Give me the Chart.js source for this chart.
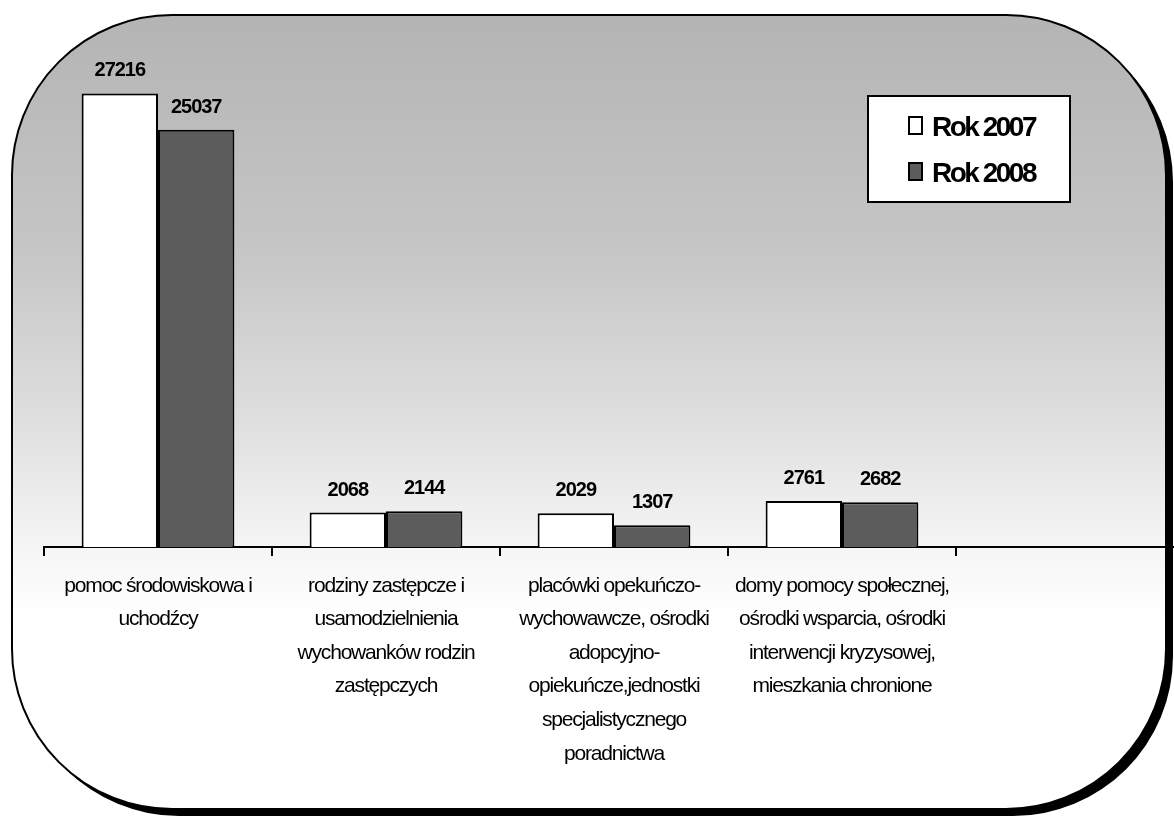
<!DOCTYPE html>
<html>
<head>
<meta charset="utf-8">
<script src="https://cdn.jsdelivr.net/npm/chart.js@4.4.1/dist/chart.umd.min.js"></script>
<style>
  html, body { margin: 0; padding: 0; background: #ffffff; overflow: hidden; }
  #wrap { width: 1174px; height: 820px; overflow: hidden; position: relative; }
  canvas { display: block; }
</style>
</head>
<body>
<div id="wrap"><canvas id="c" width="1190" height="820"></canvas></div>
<script>
// ---- data ----
const categories = [
  ["pomoc środowiskowa i", "uchodźcy"],
  ["rodziny zastępcze i", "usamodzielnienia", "wychowanków rodzin", "zastępczych"],
  ["placówki opekuńczo-", "wychowawcze, ośrodki", "adopcyjno-", "opiekuńcze,jednostki", "specjalistycznego", "poradnictwa"],
  ["domy pomocy społecznej,", "ośrodki wsparcia, ośrodki", "interwencji kryzysowej,", "mieszkania chronione"],
  [""]
];
const values2007 = [27216, 2068, 2029, 2761, null];
const values2008 = [25037, 2144, 1307, 2682, null];
const seriesNames = ["Rok 2007", "Rok 2008"];
const yMin = 0;
const yMax = 30000;

const FONT = "'Liberation Sans', Arial, Helvetica, sans-serif";

// ---- decorative frame (rounded panel with shadow) ----
function roundRectPath(ctx, x, y, w, h, r) {
  ctx.beginPath();
  ctx.moveTo(x + r, y);
  ctx.lineTo(x + w - r, y);
  ctx.arcTo(x + w, y, x + w, y + r, r);
  ctx.lineTo(x + w, y + h - r);
  ctx.arcTo(x + w, y + h, x + w - r, y + h, r);
  ctx.lineTo(x + r, y + h);
  ctx.arcTo(x, y + h, x, y + h - r, r);
  ctx.lineTo(x, y + r);
  ctx.arcTo(x, y, x + r, y, r);
  ctx.closePath();
}

const framePlugin = {
  id: 'frame',
  beforeDraw(chart) {
    const ctx = chart.ctx;
    ctx.save();
    ctx.fillStyle = '#ffffff';
    ctx.fillRect(0, 0, chart.width, chart.height);
    const x = 12, y = 15, w = 1154, h = 794, r = 160;
    // shadow
    roundRectPath(ctx, x + 7, y + 7, w, h, r);
    ctx.fillStyle = '#000000';
    ctx.fill();
    // panel
    roundRectPath(ctx, x, y, w, h, r);
    const g = ctx.createLinearGradient(0, y, 0, y + h);
    g.addColorStop(0.00, '#b4b4b4');
    g.addColorStop(0.30, '#c6c6c6');
    g.addColorStop(0.52, '#e0e0e0');
    g.addColorStop(0.66, '#f4f4f4');
    g.addColorStop(0.76, '#ffffff');
    g.addColorStop(1.00, '#ffffff');
    ctx.fillStyle = g;
    ctx.fill();
    ctx.lineWidth = 2;
    ctx.strokeStyle = '#000000';
    ctx.stroke();
    ctx.restore();
    ctx.letterSpacing = '-1.2px';
  }
};

// ---- value labels above bars ----
const valueLabelPlugin = {
  id: 'valueLabels',
  afterDatasetsDraw(chart) {
    const ctx = chart.ctx;
    ctx.save();
    ctx.font = 'bold 20px ' + FONT;
    ctx.letterSpacing = '-1px';
    ctx.fillStyle = '#000000';
    ctx.textAlign = 'center';
    ctx.textBaseline = 'alphabetic';
    chart.data.datasets.forEach((ds, di) => {
      const meta = chart.getDatasetMeta(di);
      meta.data.forEach((el, i) => {
        const v = ds.data[i];
        if (v === null || v === undefined) return;
        ctx.fillText(String(v), el.x, el.y - 17);
      });
    });
    ctx.restore();
  }
};

// ---- legend box ----
const legendBoxPlugin = {
  id: 'legendBox',
  afterDraw(chart) {
    const ctx = chart.ctx;
    ctx.save();
    const bx = 868, by = 96, bw = 202, bh = 106;
    ctx.fillStyle = '#ffffff';
    ctx.fillRect(bx, by, bw, bh);
    ctx.lineWidth = 2;
    ctx.strokeStyle = '#000000';
    ctx.strokeRect(bx, by, bw, bh);
    ctx.font = 'bold 28px ' + FONT;
    ctx.letterSpacing = '-2.5px';
    ctx.textAlign = 'left';
    ctx.textBaseline = 'alphabetic';
    chart.data.datasets.forEach((ds, i) => {
      const base = 136 + i * 46;
      ctx.fillStyle = ds.backgroundColor;
      ctx.fillRect(909, base - 19, 13, 17);
      ctx.lineWidth = 2;
      ctx.strokeStyle = '#000000';
      ctx.strokeRect(909, base - 19, 13, 17);
      ctx.fillStyle = '#000000';
      ctx.fillText(ds.label, 932, base);
    });
    ctx.restore();
  }
};

new Chart(document.getElementById('c'), {
  type: 'bar',
  data: {
    labels: categories,
    datasets: [
      {
        label: seriesNames[0],
        data: values2007,
        backgroundColor: '#ffffff',
        borderColor: '#000000',
        borderWidth: 2,
        categoryPercentage: 0.67,
        barPercentage: 1.0
      },
      {
        label: seriesNames[1],
        data: values2008,
        backgroundColor: '#5c5c5c',
        borderColor: '#000000',
        borderWidth: 2,
        categoryPercentage: 0.67,
        barPercentage: 1.0
      }
    ]
  },
  options: {
    responsive: false,
    animation: false,
    devicePixelRatio: 1,
    layout: { padding: { left: 44, top: 47, right: 6, bottom: 0 } },
    plugins: {
      legend: { display: false },
      title: { display: false },
      tooltip: { enabled: false }
    },
    scales: {
      x: {
        offset: true,
        grid: {
          display: true,
          offset: true,
          drawOnChartArea: false,
          drawTicks: true,
          tickLength: 9,
          color: '#000000',
          lineWidth: 2
        },
        border: { display: true, color: '#000000', width: 2 },
        ticks: {
          color: '#000000',
          font: { family: FONT, size: 21, lineHeight: 1.6 },
          padding: 13,
          maxRotation: 0,
          minRotation: 0,
          autoSkip: false
        },
        afterFit(scale) { scale.height = 273; }
      },
      y: {
        display: false,
        min: yMin,
        max: yMax
      }
    }
  },
  plugins: [framePlugin, valueLabelPlugin, legendBoxPlugin]
});
</script>
</body>
</html>
